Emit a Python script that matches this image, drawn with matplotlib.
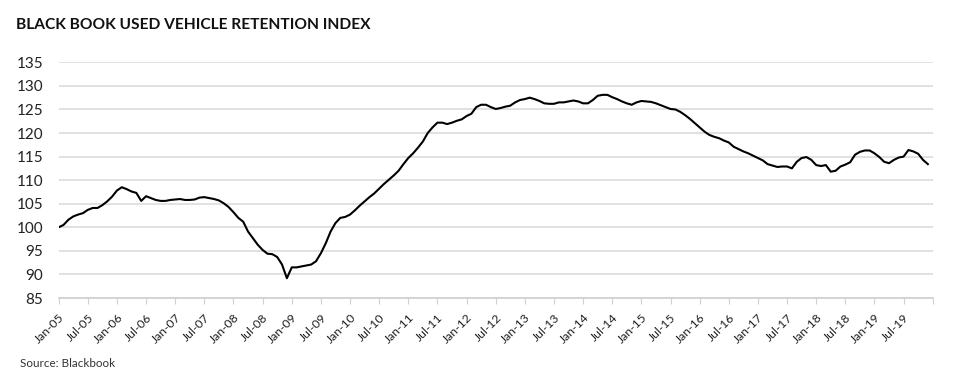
import numpy as np
import matplotlib.pyplot as plt

# monthly index values, Jan-05 .. Dec-19
idx_2005 = [100.0, 100.5, 101.6, 102.3, 102.7, 103.0, 103.7, 104.1, 104.1, 104.7, 105.5, 106.5]
idx_2006 = [107.8, 108.5, 108.1, 107.6, 107.3, 105.6, 106.6, 106.2, 105.8, 105.6, 105.6, 105.8]
idx_2007 = [105.9, 106.0, 105.8, 105.8, 105.9, 106.3, 106.4, 106.2, 106.0, 105.7, 105.1, 104.3]
idx_2008 = [103.2, 102.0, 101.2, 99.1, 97.7, 96.3, 95.2, 94.4, 94.3, 93.7, 92.1, 89.2]
idx_2009 = [91.5, 91.5, 91.7, 91.9, 92.1, 92.8, 94.5, 96.6, 99.1, 100.9, 102.0, 102.2]
idx_2010 = [102.7, 103.6, 104.6, 105.5, 106.4, 107.2, 108.2, 109.2, 110.1, 111.0, 112.0, 113.4]
idx_2011 = [114.7, 115.7, 116.9, 118.2, 120.0, 121.2, 122.2, 122.2, 121.9, 122.2, 122.6, 122.9]
idx_2012 = [123.6, 124.1, 125.5, 126.0, 126.0, 125.5, 125.1, 125.3, 125.6, 125.8, 126.5, 127.0]
idx_2013 = [127.2, 127.5, 127.2, 126.8, 126.3, 126.2, 126.2, 126.5, 126.5, 126.7, 126.9, 126.7]
idx_2014 = [126.3, 126.3, 127.0, 127.9, 128.1, 128.1, 127.6, 127.2, 126.7, 126.3, 126.0, 126.5]
idx_2015 = [126.8, 126.7, 126.6, 126.3, 125.9, 125.5, 125.1, 125.0, 124.5, 123.8, 123.0, 122.1]
idx_2016 = [121.2, 120.3, 119.6, 119.2, 118.9, 118.4, 118.0, 117.1, 116.6, 116.1, 115.7, 115.2]
idx_2017 = [114.7, 114.2, 113.4, 113.1, 112.8, 112.9, 112.9, 112.5, 113.9, 114.7, 114.9, 114.3]
idx_2018 = [113.2, 113.0, 113.2, 111.8, 112.0, 112.9, 113.3, 113.8, 115.4, 116.0, 116.3, 116.3]
idx_2019 = [115.7, 114.9, 113.9, 113.6, 114.3, 114.8, 115.0, 116.4, 116.1, 115.6, 114.3, 113.4]

values = (idx_2005 + idx_2006 + idx_2007 + idx_2008 + idx_2009 + idx_2010 + idx_2011 + idx_2012
          + idx_2013 + idx_2014 + idx_2015 + idx_2016 + idx_2017 + idx_2018 + idx_2019)

tick_labels = []
for yr in range(5, 20):
    tick_labels += ["Jan-%02d" % yr, "Jul-%02d" % yr]

plt.rcParams['font.family'] = ['Lato', 'DejaVu Sans']

fig = plt.figure(figsize=(9.6, 3.77), dpi=100)
ax = fig.add_axes([0.0611, 0.2095, 0.9105, 0.6252])

x = np.arange(len(values))
ax.plot(x, values, color='black', lw=1.5, solid_joinstyle='round')

ax.set_xlim(0, 180)
ax.set_ylim(85, 135)
ax.set_yticks(np.arange(85, 136, 5))
ax.tick_params(axis='y', length=0, labelsize=11, pad=11, labelcolor='#222222')
ax.set_xticks(np.arange(0, 181, 6))
ax.set_xticklabels(tick_labels + [""], rotation=45, ha='right', rotation_mode='anchor')
ax.tick_params(axis='x', length=4, color='#d0d0d0', labelsize=8.8, labelcolor='#222222', pad=6)

ax.grid(axis='y', color='#dcdcdc', lw=1.2)
ax.set_axisbelow(True)
for s in ['left', 'right', 'top']:
    ax.spines[s].set_visible(False)
ax.spines['bottom'].set_color('#d0d0d0')
ax.spines['bottom'].set_linewidth(1.2)

fig.text(0.0167, 0.934, "BLACK BOOK USED VEHICLE RETENTION INDEX", fontsize=11.2,
         fontweight='bold', va='center', ha='left', color='#111111')
fig.text(0.021, 0.037, "Source: Blackbook", fontsize=8.4, va='center', ha='left', color='#333333')

fig.savefig("out.png", dpi=100)
